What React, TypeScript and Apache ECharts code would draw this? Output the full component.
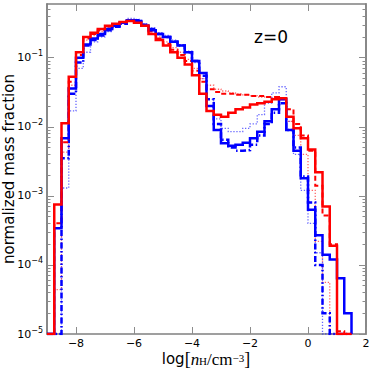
import React, { useEffect, useRef } from 'react';
import * as echarts from 'echarts';

// bin edges of log n_H (0.25 dex)
const BIN_EDGES = [
  -9, -8.75, -8.5, -8.25, -8, -7.75, -7.5, -7.25, -7, -6.75, -6.5, -6.25, -6, -5.75, -5.5,
  -5.25, -5, -4.75, -4.5, -4.25, -4, -3.75, -3.5, -3.25, -3, -2.75, -2.5, -2.25, -2, -1.75,
  -1.5, -1.25, -1, -0.75, -0.5, -0.25, 0, 0.25, 0.5, 0.75, 1, 1.25, 1.5,
];

const RED_SOLID = [
  0, 7.5e-4, 0.0113, 0.053, 0.12, 0.2, 0.23, 0.26, 0.29, 0.31, 0.33, 0.34, 0.32, 0.29, 0.22,
  0.18, 0.15, 0.12, 0.1, 0.08, 0.056, 0.03, 0.017, 0.015, 0.014, 0.016, 0.018, 0.019, 0.021,
  0.022, 0.023, 0.025, 0.026, 0.014, 0.0095, 0.0068, 0.0047, 0.0022, 7e-4, 1.9e-4, 0, 0,
];
const RED_DASHED = [
  0, 4e-4, 0.006, 0.045, 0.11, 0.19, 0.22, 0.25, 0.28, 0.3, 0.32, 0.34, 0.33, 0.29, 0.24,
  0.19, 0.16, 0.13, 0.11, 0.09, 0.065, 0.045, 0.035, 0.032, 0.03, 0.03, 0.029, 0.029, 0.028,
  0.028, 0.027, 0.027, 0.025, 0.018, 0.011, 0.0075, 0.0045, 0.0014, 5.2e-4, 2e-4, 1.1e-5, 0,
];
const RED_DOTTED = [
  0, 4.4e-5, 0.0043, 0.04, 0.1, 0.18, 0.21, 0.24, 0.27, 0.3, 0.32, 0.34, 0.34, 0.3, 0.25,
  0.2, 0.17, 0.14, 0.12, 0.095, 0.07, 0.05, 0.04, 0.035, 0.033, 0.031, 0.03, 0.029, 0.028,
  0.027, 0.027, 0.026, 0.025, 0.012, 0.0075, 0.004, 0.0012, 2.2e-4, 5.6e-5, 0, 0, 0,
];
const BLUE_SOLID = [
  0, 3.4e-4, 0.0068, 0.036, 0.1, 0.155, 0.19, 0.22, 0.26, 0.29, 0.32, 0.35, 0.34, 0.29, 0.25,
  0.22, 0.2, 0.17, 0.15, 0.12, 0.09, 0.06, 0.02, 0.009, 0.0058, 0.0053, 0.0055, 0.0059, 0.0068,
  0.0085, 0.012, 0.018, 0.025, 0.009, 0.0045, 0.0018, 6.3e-4, 2.7e-4, 1.4e-4, 1.2e-4, 6.4e-5, 2e-5,
];
const BLUE_DASHDOT = [
  0, 0, 0.0035, 0.03, 0.085, 0.15, 0.18, 0.21, 0.25, 0.28, 0.31, 0.35, 0.35, 0.3, 0.26,
  0.22, 0.2, 0.17, 0.15, 0.12, 0.09, 0.055, 0.025, 0.011, 0.0065, 0.005, 0.0045, 0.0046, 0.0055,
  0.0075, 0.011, 0.016, 0.022, 0.009, 0.005, 0.0019, 8e-4, 1e-4, 2e-5, 0, 0, 0,
];
const BLUE_DOTTED = [
  0, 0, 0.0013, 0.017, 0.07, 0.12, 0.17, 0.2, 0.24, 0.28, 0.31, 0.37, 0.36, 0.31, 0.27,
  0.23, 0.21, 0.18, 0.155, 0.125, 0.085, 0.05, 0.025, 0.013, 0.0095, 0.0085, 0.0085, 0.0095, 0.011,
  0.015, 0.022, 0.031, 0.038, 0.012, 0.004, 0.0012, 4e-4, 1.5e-4, 0, 0, 0, 0,
];

const X_TICKS = [-8, -6, -4, -2, 0, 2];
const Y_MAJOR = [1e-5, 1e-4, 1e-3, 1e-2, 1e-1];
const Y_MINOR = [
  2e-5, 3e-5, 4e-5, 5e-5, 6e-5, 7e-5, 8e-5, 9e-5,
  2e-4, 3e-4, 4e-4, 5e-4, 6e-4, 7e-4, 8e-4, 9e-4,
  2e-3, 3e-3, 4e-3, 5e-3, 6e-3, 7e-3, 8e-3, 9e-3,
  2e-2, 3e-2, 4e-2, 5e-2, 6e-2, 7e-2, 8e-2, 9e-2,
  0.2, 0.3, 0.4, 0.5,
];
const Y_MIN = 1e-5;
const Y_MAX = 0.6;

function stepData(vals: number[]): number[][] {
  const floor = Y_MIN;
  const pts: number[][] = [[BIN_EDGES[0], floor]];
  for (let i = 0; i < vals.length; i++) {
    pts.push([BIN_EDGES[i], Math.max(vals[i], floor)]);
  }
  const n = vals.length;
  pts.push([BIN_EDGES[n], Math.max(vals[n - 1], floor)]);
  pts.push([BIN_EDGES[n], floor]);
  return pts;
}

const AXIS_COLOR = '#808080';
const TICK_COLOR = '#8c8c8c';
const FONT = 'DejaVu Sans';

export default function App() {
  const ref = useRef<HTMLDivElement>(null);
  useEffect(() => {
    document.body.style.margin = '0';
    if (!ref.current) return;
    const chart = echarts.init(ref.current, undefined, { renderer: 'svg' });

    const axisLine = { show: true, onZero: false, lineStyle: { color: AXIS_COLOR, width: 1.5 } };
    const xBase = (pos: string, labels: boolean) => ({
      type: 'value',
      position: pos,
      min: -9,
      max: 2,
      axisLine,
      axisTick: { show: true, inside: true, length: 7, customValues: X_TICKS, lineStyle: { color: TICK_COLOR, width: 1 } },
      axisLabel: labels
        ? {
            show: true,
            customValues: X_TICKS,
            formatter: (v: number) => (v < 0 ? '\u2212' + Math.abs(v) : String(v)),
            color: '#000',
            fontSize: 11,
            lineHeight: 11,
            fontFamily: FONT,
            margin: 4,
          }
        : { show: false },
      splitLine: { show: false },
      minorTick: { show: false },
    });
    const yBase = (pos: string, major: boolean, labels: boolean) => ({
      type: 'log',
      logBase: 10,
      position: pos,
      min: Y_MIN,
      max: Y_MAX,
      axisLine,
      axisTick: {
        show: true,
        inside: true,
        length: major ? 7 : 3.5,
        customValues: major ? Y_MAJOR : Y_MINOR,
        lineStyle: { color: TICK_COLOR, width: 1 },
      },
      axisLabel: labels
        ? {
            show: true,
            customValues: Y_MAJOR,
            margin: 4,
            formatter: (v: number) => {
              const e = Math.round(Math.log10(v));
              return '{b|10}{s|' + (e < 0 ? '\u2212' : '') + Math.abs(e) + '}';
            },
            rich: {
              b: { fontSize: 11, fontFamily: FONT, color: '#000', lineHeight: 16 },
              s: { fontSize: 8, fontFamily: FONT, color: '#000', lineHeight: 9, verticalAlign: 'top' },
            },
          }
        : { show: false },
      splitLine: { show: false },
      minorTick: { show: false },
    });

    const mk = (name: string, vals: number[], color: string, width: number, type: any, opacity: number, z: number) => ({
      name,
      type: 'line',
      step: 'end',
      data: stepData(vals),
      showSymbol: false,
      symbol: 'none',
      clip: true,
      z,
      lineStyle: { color, width, type, opacity, cap: 'butt', join: 'miter' },
      emphasis: { disabled: true },
    });

    chart.setOption({
      animation: false,
      backgroundColor: '#ffffff',
      grid: { left: 47, right: 8, top: 4, bottom: 39, outerBoundsMode: 'none', containLabel: false },
      xAxis: [xBase('bottom', true), xBase('top', false)],
      yAxis: [
        yBase('left', true, true),
        yBase('left', false, false),
        yBase('right', true, false),
        yBase('right', false, false),
      ],
      series: [
        mk('blue dotted', BLUE_DOTTED, '#0000ff', 1.3, [1.3, 1.7], 0.6, 2),
        mk('red dotted', RED_DOTTED, '#ff0000', 1.3, [1.3, 1.7], 0.6, 3),
        mk('blue dash-dot', BLUE_DASHDOT, '#0000ff', 2.5, [6, 2.5, 1.5, 2.5], 1, 4),
        mk('red dashed', RED_DASHED, '#ff0000', 2, [5, 3], 1, 5),
        mk('blue solid', BLUE_SOLID, '#0000ff', 2.5, 'solid', 1, 6),
        mk('red solid', RED_SOLID, '#ff0000', 2.5, 'solid', 1, 7),
      ],
      graphic: [
        {
          type: 'text',
          x: 9,
          y: 169,
          rotation: Math.PI / 2,
          style: { text: 'normalized mass fraction', fontSize: 15, fontFamily: FONT, fill: '#000', align: 'center', verticalAlign: 'middle' },
        },
        {
          type: 'text',
          x: 206,
          y: 359,
          style: {
            text: '{a|log}{b|[}{n|n}{h|H}{c|/cm}{s|\u22123}{b|]}',
            align: 'center',
            verticalAlign: 'middle',
            fill: '#000',
            rich: {
              a: { fontSize: 15, fontFamily: FONT, lineHeight: 14 },
              b: { fontSize: 18, fontFamily: 'Liberation Serif', lineHeight: 14 },
              n: { fontSize: 17, fontFamily: 'Liberation Serif', fontStyle: 'italic', lineHeight: 14 },
              h: { fontSize: 11, fontFamily: 'Liberation Serif', lineHeight: 2, verticalAlign: 'bottom' },
              c: { fontSize: 17, fontFamily: 'Liberation Serif', lineHeight: 14 },
              s: { fontSize: 11, fontFamily: 'Liberation Serif', lineHeight: 4, verticalAlign: 'top' },
            },
          },
        },
        {
          type: 'text',
          x: 271,
          y: 37,
          style: { text: 'z=0', fontSize: 17, fontFamily: FONT, fill: '#000', align: 'center', verticalAlign: 'middle' },
        },
      ],
    });
    return () => chart.dispose();
  }, []);
  return <div ref={ref} style={{ position: 'fixed', left: 0, top: 0, width: 374, height: 373 }} />;
}
